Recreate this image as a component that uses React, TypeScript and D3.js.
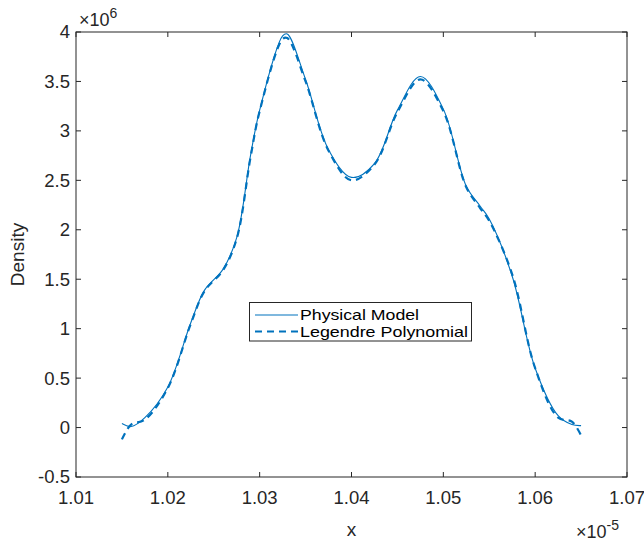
import React from "react";
import * as d3 from "d3";

const xValues = [1.015, 1.016, 1.0175, 1.02, 1.0225, 1.024, 1.026, 1.0275, 1.029, 1.03, 1.0325, 1.033, 1.035, 1.0375, 1.04, 1.0425, 1.045, 1.0475, 1.05, 1.0525, 1.054, 1.055, 1.0575, 1.06, 1.0625, 1.064, 1.065];
const physicalModel = [0.04, 0.01, 0.10, 0.41, 1.06, 1.39, 1.60, 1.92, 2.75, 3.21, 3.96, 3.98, 3.52, 2.81, 2.53, 2.67, 3.21, 3.55, 3.22, 2.44, 2.24, 2.11, 1.53, 0.60, 0.12, 0.03, 0.02];
const legendrePoly = [-0.12, 0.03, 0.08, 0.40, 1.05, 1.38, 1.59, 1.91, 2.73, 3.20, 3.93, 3.94, 3.50, 2.80, 2.50, 2.66, 3.19, 3.52, 3.20, 2.43, 2.22, 2.09, 1.55, 0.60, 0.10, 0.06, -0.08];
const xTicks = [1.01, 1.02, 1.03, 1.04, 1.05, 1.06, 1.07];
const yTicks = [-0.5, 0, 0.5, 1, 1.5, 2, 2.5, 3, 3.5, 4];
const seriesNames = ["Physical Model", "Legendre Polynomial"];

const W = 644, H = 544;
const L = 76, R = 627, T = 32, B = 477;
const BLUE = "#0072BD";
const AX = "#262626";
const FONT = "'Liberation Sans', Arial, Helvetica, sans-serif";

export default function App() {
  const x = d3.scaleLinear().domain([1.01, 1.07]).range([L, R]);
  const y = d3.scaleLinear().domain([-0.5, 4]).range([B, T]);
  const line = (vals: number[]) =>
    d3.line<number>()
      .x((_, i) => x(xValues[i]))
      .y((d) => y(d))
      .curve(d3.curveCatmullRom.alpha(0.5))(vals) || "";

  return (
    <svg width={W} height={H} style={{ position: "absolute", left: 0, top: 0, background: "#fff" }} fontFamily={FONT}>
      <rect x={0} y={0} width={W} height={H} fill="#fff" />
      {/* curves */}
      <path d={line(legendrePoly)} fill="none" stroke={BLUE} strokeWidth={2.2} strokeDasharray="7,5" />
      <path d={line(physicalModel)} fill="none" stroke={BLUE} strokeWidth={1.1} />
      {/* box */}
      <rect x={L} y={T} width={R - L} height={B - T} fill="none" stroke={AX} strokeWidth={1} />
      {xTicks.map((t) => (
        <g key={"x" + t}>
          <line x1={x(t)} x2={x(t)} y1={B} y2={B - 5} stroke={AX} />
          <line x1={x(t)} x2={x(t)} y1={T} y2={T + 5} stroke={AX} />
          <text x={x(t)} y={504} textAnchor="middle" fontSize={18.5} fill={AX}>{t.toFixed(2)}</text>
        </g>
      ))}
      {yTicks.map((t) => (
        <g key={"y" + t}>
          <line x1={L} x2={L + 5} y1={y(t)} y2={y(t)} stroke={AX} />
          <line x1={R} x2={R - 5} y1={y(t)} y2={y(t)} stroke={AX} />
          <text x={70} y={y(t)} dy="0.35em" textAnchor="end" fontSize={18.5} fill={AX}>{String(t)}</text>
        </g>
      ))}
      {/* exponents */}
      <text x={79} y={26} fontSize={18} fill={AX}>×10<tspan dy={-8} fontSize={14}>6</tspan></text>
      <text x={576} y={538} fontSize={18} fill={AX}>×10<tspan dy={-8} fontSize={14}>-5</tspan></text>
      {/* axis labels */}
      <text x={(L + R) / 2} y={536} textAnchor="middle" fontSize={19} fill={AX}>x</text>
      <text transform={`translate(24,${(T + B) / 2}) rotate(-90)`} textAnchor="middle" fontSize={19} fill={AX}>Density</text>
      {/* legend */}
      <rect x={249.5} y={302.5} width={222} height={38.5} fill="#fff" stroke={AX} strokeWidth={1} />
      <line x1={255} x2={298} y1={315} y2={315} stroke={BLUE} strokeWidth={1.1} />
      <line x1={255} x2={298} y1={331.5} y2={331.5} stroke={BLUE} strokeWidth={2.2} strokeDasharray="7,5" />
      <text x={300} y={315} dy="0.36em" fontSize={14.5} textLength={119} lengthAdjust="spacingAndGlyphs" fill="#000">{seriesNames[0]}</text>
      <text x={300} y={331.5} dy="0.36em" fontSize={14.5} textLength={168} lengthAdjust="spacingAndGlyphs" fill="#000">{seriesNames[1]}</text>
    </svg>
  );
}
